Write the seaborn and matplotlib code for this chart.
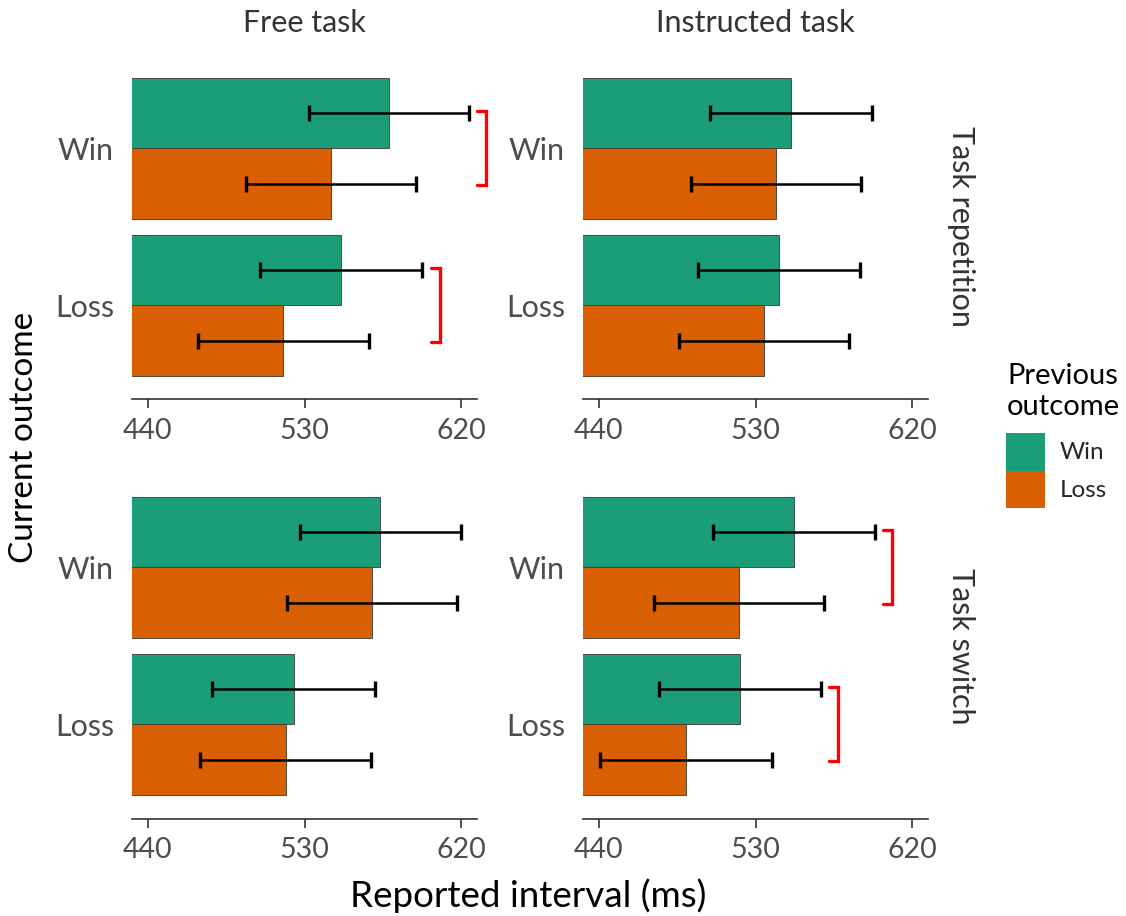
import matplotlib
matplotlib.use("Agg")
import matplotlib.pyplot as plt
from matplotlib.patches import Patch
import seaborn as sns
import pandas as pd
import numpy as np

# ---------------- data ----------------
tasks = ["Free task", "Instructed task"]
transitions = ["Task repetition", "Task switch"]
current_outcomes = ["Win", "Loss"]
previous_outcomes = ["Win", "Loss"]

# means: [transition][task] -> [cur Win/prev Win, cur Win/prev Loss, cur Loss/prev Win, cur Loss/prev Loss]
rep_free_mean = [578.3, 545.1, 550.9, 517.8]
rep_instr_mean = [550.3, 542.0, 543.5, 534.9]
sw_free_mean = [573.5, 568.8, 523.8, 519.1]
sw_instr_mean = [552.0, 520.6, 521.0, 489.9]

rep_free_err = [46.0, 48.7, 46.7, 49.0]
rep_instr_err = [46.3, 48.8, 46.7, 49.0]
sw_free_err = [46.1, 48.6, 46.7, 49.0]
sw_instr_err = [46.4, 48.9, 46.4, 49.3]

# significant previous-outcome comparisons: (transition, task, current outcome)
significant = [
    ("Task repetition", "Free task", "Win"),
    ("Task repetition", "Free task", "Loss"),
    ("Task switch", "Instructed task", "Win"),
    ("Task switch", "Instructed task", "Loss"),
]

x_ticks = [440, 530, 620]
x_limits = [431, 629]

palette = {"Win": "#1B9E77", "Loss": "#D95F02"}

cells = {
    ("Task repetition", "Free task"): (rep_free_mean, rep_free_err),
    ("Task repetition", "Instructed task"): (rep_instr_mean, rep_instr_err),
    ("Task switch", "Free task"): (sw_free_mean, sw_free_err),
    ("Task switch", "Instructed task"): (sw_instr_mean, sw_instr_err),
}
rows = []
for (tr, tk), (means, errs) in cells.items():
    k = 0
    for cur in current_outcomes:
        for prev in previous_outcomes:
            rows.append(dict(transition=tr, task=tk, current=cur, previous=prev,
                             value=means[k], err=errs[k]))
            k += 1
df = pd.DataFrame(rows)

# ---------------- figure ----------------
sns.set_theme(style="white")
plt.rcParams["font.family"] = ["Lato", "DejaVu Sans"]

W, H = 1126, 916
fig = plt.figure(figsize=(W / 100, H / 100), dpi=100)

panel_x = [132, 583]
panel_top = [54, 473]
pw, ph = 345, 345.5

def fx(px):
    return px / W

def fy(py):
    return 1 - py / H

for r, tr in enumerate(transitions):
    for c, tk in enumerate(tasks):
        ax = fig.add_axes([fx(panel_x[c]), fy(panel_top[r] + ph), pw / W, ph / H])
        sub = df[(df.transition == tr) & (df.task == tk)]
        sns.barplot(data=sub, y="current", x="value", hue="previous",
                    order=current_outcomes, hue_order=previous_outcomes,
                    palette=palette, orient="h", width=0.9, errorbar=None,
                    saturation=1, edgecolor="#3a3a3a", linewidth=0.6,
                    legend=False, ax=ax)
        # error bars at bar centres
        tops = {}
        for hi, prev in enumerate(previous_outcomes):
            cont = ax.containers[hi]
            for ci, cur in enumerate(current_outcomes):
                bar = cont[ci]
                row = sub[(sub.current == cur) & (sub.previous == prev)].iloc[0]
                yc = bar.get_y() + bar.get_height() / 2
                ax.errorbar(row.value, yc, xerr=row.err, fmt="none", ecolor="black",
                            elinewidth=1.8, capsize=5.5, capthick=2.4, zorder=4)
                tops.setdefault(cur, []).append((yc, row.value + row.err))
        # significance brackets
        for (str_, stk, scur) in significant:
            if str_ == tr and stk == tk:
                ys = [p[0] for p in tops[scur]]
                xmax = max(p[1] for p in tops[scur])
                x0 = xmax + 4.8
                x1 = x0 + 5.3
                y0, y1 = min(ys) - 0.01, max(ys) + 0.01
                ax.plot([x0, x1, x1, x0], [y0, y0, y1, y1], color="#FF0000",
                        lw=2.4, clip_on=False, solid_joinstyle="miter", zorder=5)

        ax.set_xlim(*x_limits)
        ax.set_ylim(1.6, -0.6)
        ax.set_xticks(x_ticks)
        ax.set_xticklabels([str(t) for t in x_ticks])
        ax.set_xlabel("")
        ax.set_ylabel("")
        for s in ["top", "right", "left"]:
            ax.spines[s].set_visible(False)
        ax.spines["bottom"].set_color("#333333")
        ax.spines["bottom"].set_linewidth(1.2)
        ax.tick_params(axis="x", length=6.5, width=1.2, color="#333333",
                       labelsize=20.5, labelcolor="#4D4D4D", pad=7, bottom=True)
        ax.tick_params(axis="y", length=0, labelsize=22, labelcolor="#4D4D4D", pad=13)

# column strips
for c, tk in enumerate(tasks):
    fig.text(fx(panel_x[c] + pw / 2), fy(32), tk, ha="center", va="baseline",
             fontsize=22, color="#333333")
# row strips
for r, tr in enumerate(transitions):
    fig.text(fx(961), fy(panel_top[r] + ph / 2), tr, ha="center", va="center",
             rotation=270, fontsize=22, color="#333333")

fig.text(fx(24), fy(437), "Current outcome", ha="center", va="center",
         rotation=90, fontsize=24, color="black")
fig.text(fx(528), fy(907), "Reported interval (ms)", ha="center", va="baseline",
         fontsize=26.5, color="black")

# legend: title as text, keys as legend
fig.text(fx(1007), fy(384), "Previous", ha="left", va="baseline", fontsize=21, color="black")
fig.text(fx(1007), fy(415), "outcome", ha="left", va="baseline", fontsize=21, color="black")
handles = [Patch(facecolor=palette[p], edgecolor="none") for p in previous_outcomes]
leg = fig.legend(handles, previous_outcomes,
                 loc="upper left", bbox_to_anchor=(fx(1006), fy(433)),
                 frameon=False, fontsize=17.5,
                 handlelength=1.6, handleheight=2.0, labelspacing=0,
                 handletextpad=0.6, borderpad=0, borderaxespad=0)

fig.savefig("out.png", dpi=100)
